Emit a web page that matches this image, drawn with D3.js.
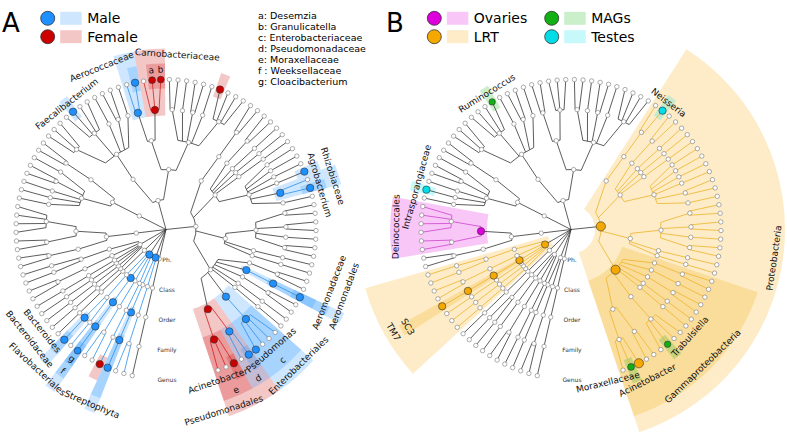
<!DOCTYPE html>
<html><head><meta charset="utf-8">
<script src="https://cdn.jsdelivr.net/npm/d3@7"></script>
<style>body{margin:0;background:#fff}svg{display:block}text{font-family:"DejaVu Sans",sans-serif}</style>
</head><body><svg id="chart" width="787" height="438"></svg>
<script>
// ---------------- DATA ----------------
const levels = ["Root", "Ph.", "Class", "Order", "Family", "Genus"];
const leaves = [
"Chloroflexi|Anaerolineae|Anaerolineales|Anaerolineaceae|Anaerolinea",
"Cyanobacteria|Synechococcophycideae|Synechococcales|Synechococcaceae|Synechococcus",
"Cyanobacteria|Synechococcophycideae|Synechococcales|Synechococcaceae|Prochlorococcus",
"Cyanobacteria|Chloroplast|Streptophyta|Streptophyta f.|Streptophyta g.",
"Bacteroidetes|Sphingobacteriia|Sphingobacteriales|Sphingobacteriaceae|Sphingobacterium",
"Bacteroidetes|Cytophagia|Cytophagales|Cytophagaceae|Hymenobacter",
"Bacteroidetes|Cytophagia|Cytophagales|Cytophagaceae|Dyadobacter",
"Bacteroidetes|Flavobacteriia|Flavobacteriales|Weeksellaceae|Cloacibacterium",
"Bacteroidetes|Bacteroidia|Bacteroidales|Porphyromonadaceae|Porphyromonas",
"Bacteroidetes|Bacteroidia|Bacteroidales|Bacteroidaceae|Bacteroides",
"Fusobacteria|Fusobacteriia|Fusobacteriales|Fusobacteriaceae|Fusobacterium",
"TM7|TM7-1|TM7-1 o.|TM7-1 f.|TM7-1 g.",
"TM7|TM7-2|TM7-2 o.|TM7-2 f.|TM7-2 g.",
"TM7|TM7-3|TM7-3 o.|TM7-3 f.|TM7-3 g.",
"TM7|SC3|SC3 o.|SC3 f.|SC3 g.",
"TM7|TM7-4|TM7-4 o.|TM7-4 f.|TM7-4 g1",
"TM7|TM7-4|TM7-4 o.|TM7-4 f.|TM7-4 g2",
"TM7|TM7-5|TM7-5 o.|TM7-5 f1|TM7-5 g1",
"TM7|TM7-5|TM7-5 o.|TM7-5 f2|TM7-5 g2",
"Deinococcus-Thermus|Deinococci|Thermales|Thermaceae|Thermus",
"Deinococcus-Thermus|Deinococci|Thermales|Thermaceae|Meiothermus",
"Deinococcus-Thermus|Deinococci|Deinococcales|Trueperaceae|Truepera",
"Deinococcus-Thermus|Deinococci|Deinococcales|Trueperaceae|Trueperaceae g.",
"Deinococcus-Thermus|Deinococci|Deinococcales|Deinococcaceae|Deinococcus",
"Deinococcus-Thermus|Deinococci|Deinococcales|Deinococcaceae|Deinobacterium",
"Deinococcus-Thermus|Deinococci|Deinococcales|Deinococcaceae|Deinococcaceae g1",
"Deinococcus-Thermus|Deinococci|Deinococcales|Deinococcaceae|Deinococcaceae g2",
"Actinobacteria|Actinobacteria|Actinomycetales|Micrococcaceae|Rothia",
"Actinobacteria|Actinobacteria|Actinomycetales|Intrasporangiaceae|Intrasporangiaceae g.",
"Actinobacteria|Actinobacteria|Actinomycetales|Dermabacteraceae|Brachybacterium",
"Actinobacteria|Actinobacteria|Actinomycetales|Corynebacteriaceae|Corynebacterium",
"Actinobacteria|Actinobacteria|Actinomycetales|Corynebacteriaceae|Turicella",
"Actinobacteria|Actinobacteria|Actinomycetales|Propionibacteriaceae|Propionibacterium",
"Actinobacteria|Actinobacteria|Bifidobacteriales|Bifidobacteriaceae|Bifidobacterium",
"Actinobacteria|Actinobacteria|Bifidobacteriales|Bifidobacteriaceae|Gardnerella",
"Firmicutes|Clostridia|Clostridiales|Lachnospiraceae|Blautia",
"Firmicutes|Clostridia|Clostridiales|Lachnospiraceae|Coprococcus",
"Firmicutes|Clostridia|Clostridiales|Lachnospiraceae|Roseburia",
"Firmicutes|Clostridia|Clostridiales|Ruminococcaceae|Oscillospira",
"Firmicutes|Clostridia|Clostridiales|Ruminococcaceae|Faecalibacterium",
"Firmicutes|Clostridia|Clostridiales|Ruminococcaceae|Subdoligranulum",
"Firmicutes|Clostridia|Clostridiales|Ruminococcaceae|Ruminococcus",
"Firmicutes|Clostridia|Clostridiales|Peptostreptococcaceae|Peptostreptococcus",
"Firmicutes|Clostridia|Clostridiales|Veillonellaceae|Veillonella",
"Firmicutes|Clostridia|Clostridiales|Veillonellaceae|Dialister",
"Firmicutes|Clostridia|Clostridiales|Clostridiaceae|Clostridium",
"Firmicutes|Bacilli|Lactobacillales|Aerococcaceae|Abiotrophia",
"Firmicutes|Bacilli|Lactobacillales|Aerococcaceae|Aerococcus",
"Firmicutes|Bacilli|Lactobacillales|Carnobacteriaceae|Carnobacterium",
"Firmicutes|Bacilli|Lactobacillales|Carnobacteriaceae|Desemzia",
"Firmicutes|Bacilli|Lactobacillales|Carnobacteriaceae|Granulicatella",
"Firmicutes|Bacilli|Bacillales|Bacillaceae|Bacillus",
"Firmicutes|Bacilli|Bacillales|Bacillaceae|Anoxybacillus",
"Firmicutes|Bacilli|Bacillales|Planococcaceae|Planococcus",
"Firmicutes|Bacilli|Bacillales|Staphylococcaceae|Staphylococcus",
"Firmicutes|Bacilli|Bacillales|Staphylococcaceae|Macrococcus",
"Firmicutes|Bacilli|Bacillales|Listeriaceae|Brochothrix",
"Firmicutes|Bacilli|Bacillales|Paenibacillaceae|Paenibacillus",
"Firmicutes|Bacilli|Bacillales|Paenibacillaceae|Brevibacillus",
"Firmicutes|Bacilli|Bacillales|Paenibacillaceae|Ammoniphilus",
"Firmicutes|Bacilli|Bacillales|Paenibacillaceae|Cohnella",
"Proteobacteria|Betaproteobacteria|Neisseriales|Neisseriaceae|Kingella",
"Proteobacteria|Betaproteobacteria|Neisseriales|Neisseriaceae|Neisseria",
"Proteobacteria|Alphaproteobacteria|Sphingomonadales|Sphingomonadaceae|Sphingomonas",
"Proteobacteria|Alphaproteobacteria|Sphingomonadales|Sphingomonadaceae|Sphingobium",
"Proteobacteria|Alphaproteobacteria|Caulobacterales|Caulobacteraceae|Brevundimonas",
"Proteobacteria|Alphaproteobacteria|Rhodobacterales|Rhodobacteraceae|Paracoccus",
"Proteobacteria|Alphaproteobacteria|Rhodospirillales|Acetobacteraceae|Roseomonas",
"Proteobacteria|Alphaproteobacteria|Rhizobiales|Bradyrhizobiaceae|Bradyrhizobium",
"Proteobacteria|Alphaproteobacteria|Rhizobiales|Methylobacteriaceae|Methylobacterium",
"Proteobacteria|Alphaproteobacteria|Rhizobiales|Phyllobacteriaceae|Mesorhizobium",
"Proteobacteria|Alphaproteobacteria|Rhizobiales|Brucellaceae|Ochrobactrum",
"Proteobacteria|Alphaproteobacteria|Rhizobiales|Rhizobiaceae|Rhizobium",
"Proteobacteria|Alphaproteobacteria|Rhizobiales|Rhizobiaceae|Agrobacterium",
"Proteobacteria|Alphaproteobacteria|Rhizobiales|Hyphomicrobiaceae|Devosia",
"Proteobacteria|Deltaproteobacteria|Burkholderiales|Comamonadaceae|Delftia",
"Proteobacteria|Deltaproteobacteria|Burkholderiales|Comamonadaceae|Comamonas",
"Proteobacteria|Deltaproteobacteria|Burkholderiales|Oxalobacteraceae|Massilia",
"Proteobacteria|Deltaproteobacteria|Burkholderiales|Oxalobacteraceae|Herbaspirillum",
"Proteobacteria|Deltaproteobacteria|Burkholderiales|Burkholderiaceae|Burkholderia",
"Proteobacteria|Deltaproteobacteria|Burkholderiales|Alcaligenaceae|Achromobacter",
"Proteobacteria|Deltaproteobacteria|Burkholderiales|Alcaligenaceae|Sutterella",
"Proteobacteria|Deltaproteobacteria|Rhodocyclales|Rhodocyclaceae|Dechloromonas",
"Proteobacteria|Deltaproteobacteria|Methylophilales|Methylophilaceae|Methylotenera",
"Proteobacteria|Gammaproteobacteria|Xanthomonadales|Xanthomonadaceae|Stenotrophomonas",
"Proteobacteria|Gammaproteobacteria|Xanthomonadales|Xanthomonadaceae|Lysobacter",
"Proteobacteria|Gammaproteobacteria|Aeromonadales|Aeromonadaceae|Aeromonas",
"Proteobacteria|Gammaproteobacteria|Pasteurellales|Pasteurellaceae|Haemophilus",
"Proteobacteria|Gammaproteobacteria|Pasteurellales|Pasteurellaceae|Actinobacillus",
"Proteobacteria|Gammaproteobacteria|Legionellales|Legionellaceae|Legionella",
"Proteobacteria|Gammaproteobacteria|Alteromonadales|Shewanellaceae|Shewanella",
"Proteobacteria|Gammaproteobacteria|Enterobacteriales|Enterobacteriaceae|Escherichia",
"Proteobacteria|Gammaproteobacteria|Enterobacteriales|Enterobacteriaceae|Klebsiella",
"Proteobacteria|Gammaproteobacteria|Enterobacteriales|Enterobacteriaceae|Trabulsiella",
"Proteobacteria|Gammaproteobacteria|Enterobacteriales|Enterobacteriaceae|Enterobacter",
"Proteobacteria|Gammaproteobacteria|Pseudomonadales|Pseudomonadaceae|Pseudomonas",
"Proteobacteria|Gammaproteobacteria|Pseudomonadales|Pseudomonadaceae|Azotobacter",
"Proteobacteria|Gammaproteobacteria|Pseudomonadales|Moraxellaceae|Acinetobacter",
"Proteobacteria|Gammaproteobacteria|Pseudomonadales|Moraxellaceae|Moraxellaceae g.",
"Proteobacteria|Gammaproteobacteria|Pseudomonadales|Moraxellaceae|Enhydrobacter"
];

const groupsA = ["Male", "Female"];
const groupsB = [["Ovaries", "LRT"], ["MAGs", "Testes"]];
const keyLetters = ["a: Desemzia", "b: Granulicatella", "c: Enterobacteriaceae", "d: Pseudomonadaceae",
                    "e: Moraxellaceae", "f : Weeksellaceae", "g: Cloacibacterium"];

const PS = "Proteobacteria|Gammaproteobacteria|Pseudomonadales";
const EN = "Proteobacteria|Gammaproteobacteria|Enterobacteriales|Enterobacteriaceae";
const highlightsA = [
 {clade: "Cyanobacteria", group: "Male", marker: true, branch: true},
 {clade: "Cyanobacteria|Chloroplast|Streptophyta", group: "Male", marker: true, ring: 3, label: "Streptophyta"},
 {clade: "Cyanobacteria|Chloroplast|Streptophyta|Streptophyta f.", group: "Male", marker: true, ring: 2},
 {clade: "Cyanobacteria|Chloroplast|Streptophyta|Streptophyta f.|Streptophyta g.", group: "Male", marker: true},
 {clade: "Bacteroidetes", group: "Male", marker: true, branch: true},
 {clade: "Bacteroidetes|Sphingobacteriia|Sphingobacteriales|Sphingobacteriaceae|Sphingobacterium", group: "Female", marker: true, ring: 1},
 {clade: "Bacteroidetes|Flavobacteriia", group: "Male", marker: true},
 {clade: "Bacteroidetes|Flavobacteriia|Flavobacteriales", group: "Male", marker: true, ring: 3, label: "Flavobacteriales"},
 {clade: "Bacteroidetes|Flavobacteriia|Flavobacteriales|Weeksellaceae", group: "Male", marker: true, ring: 2, label: "f"},
 {clade: "Bacteroidetes|Flavobacteriia|Flavobacteriales|Weeksellaceae|Cloacibacterium", group: "Male", marker: true, ring: 1, label: "g"},
 {clade: "Bacteroidetes|Bacteroidia|Bacteroidales|Bacteroidaceae", group: "Male", marker: true, ring: 2, label: "Bacteroidaceae"},
 {clade: "Bacteroidetes|Bacteroidia|Bacteroidales|Bacteroidaceae|Bacteroides", group: "Male", marker: true, ring: 1, label: "Bacteroides"},
 {clade: "Firmicutes|Clostridia|Clostridiales|Ruminococcaceae|Faecalibacterium", group: "Male", marker: true, ring: 1, label: "Faecalibacterium"},
 {clade: "Firmicutes|Bacilli|Lactobacillales|Aerococcaceae", group: "Male", marker: true, branch: true, ring: 2, label: "Aerococcaceae"},
 {clade: "Firmicutes|Bacilli|Lactobacillales|Aerococcaceae|Aerococcus", group: "Male", marker: true, ring: 1},
 {clade: "Firmicutes|Bacilli|Lactobacillales|Carnobacteriaceae", group: "Female", marker: true, branch: true, ring: 2, label: "Carnobacteriaceae"},
 {clade: "Firmicutes|Bacilli|Lactobacillales|Carnobacteriaceae|Desemzia", group: "Female", marker: true, ring: 1, label: "a"},
 {clade: "Firmicutes|Bacilli|Lactobacillales|Carnobacteriaceae|Granulicatella", group: "Female", marker: true, ring: 1, label: "b"},
 {clade: "Firmicutes|Bacilli|Bacillales|Paenibacillaceae|Paenibacillus", group: "Female", marker: true, ring: 1},
 {clade: "Proteobacteria|Alphaproteobacteria|Rhizobiales|Brucellaceae|Ochrobactrum", group: "Male", marker: true, ring: 1},
 {clade: "Proteobacteria|Alphaproteobacteria|Rhizobiales|Rhizobiaceae", group: "Male", marker: true, branch: true, ring: 2, label: "Rhizobiaceae"},
 {clade: "Proteobacteria|Alphaproteobacteria|Rhizobiales|Rhizobiaceae|Agrobacterium", group: "Male", marker: true, ring: 1, label: "Agrobacterium"},
 {clade: "Proteobacteria|Gammaproteobacteria|Aeromonadales", group: "Male", marker: true, branch: true, ring: 3, label: "Aeromonadales"},
 {clade: "Proteobacteria|Gammaproteobacteria|Aeromonadales|Aeromonadaceae", group: "Male", marker: true, ring: 2, label: "Aeromonadaceae"},
 {clade: "Proteobacteria|Gammaproteobacteria|Aeromonadales|Aeromonadaceae|Aeromonas", group: "Male", marker: true, ring: 1},
 {clade: "Proteobacteria|Gammaproteobacteria|Enterobacteriales", group: "Male", marker: true, branch: true, ring: 3, label: "Enterobacteriales"},
 {clade: EN, group: "Male", marker: true, ring: 2, label: "c"},
 {clade: EN + "|Enterobacter", group: "Male", marker: true},
 {clade: PS, group: "Female", marker: true, branch: true, ring: 3, label: "Pseudomonadales"},
 {clade: PS + "|Pseudomonadaceae", group: "Male", marker: true, branch: true, ring: 2, label: "d"},
 {clade: PS + "|Pseudomonadaceae|Pseudomonas", group: "Male", marker: true, ring: 1, label: "Pseudomonas"},
 {clade: PS + "|Moraxellaceae", group: "Female", marker: true, ring: 2, label: "e"},
 {clade: PS + "|Moraxellaceae|Acinetobacter", group: "Female", marker: true, ring: 1, label: "Acinetobacter"}
];

const highlightsB = [
 {clade: "TM7", group: "LRT", marker: true, branch: true, ring: 4, label: "TM7"},
 {clade: "TM7|SC3", group: "LRT", marker: true, ring: 3, label: "SC3"},
 {clade: "TM7|SC3|SC3 o.", group: "LRT", marker: true},
 {clade: "TM7|SC3|SC3 o.|SC3 f.", group: "LRT", marker: true},
 {clade: "TM7|SC3|SC3 o.|SC3 f.|SC3 g.", group: "LRT", marker: true},
 {clade: "Deinococcus-Thermus|Deinococci|Deinococcales", group: "Ovaries", marker: true, branch: true, ring: 2, label: "Deinococcales"},
 {clade: "Actinobacteria|Actinobacteria|Actinomycetales|Intrasporangiaceae|Intrasporangiaceae g.", group: "Testes", marker: true, ring: 1, label: "Intrasporangiaceae"},
 {clade: "Firmicutes|Clostridia|Clostridiales|Ruminococcaceae|Ruminococcus", group: "MAGs", marker: true, ring: 1, label: "Ruminococcus"},
 {clade: "Proteobacteria", group: "LRT", marker: true, branch: true, ring: 4, label: "Proteobacteria"},
 {clade: "Proteobacteria|Betaproteobacteria|Neisseriales|Neisseriaceae|Neisseria", group: "Testes", marker: true, ring: 1, label: "Neisseria"},
 {clade: "Proteobacteria|Gammaproteobacteria", group: "LRT", marker: true, ring: 3, label: "Gammaproteobacteria"},
 {clade: EN + "|Trabulsiella", group: "MAGs", marker: true, ring: 1, label: "Trabulsiella"},
 {clade: PS + "|Moraxellaceae|Acinetobacter", group: "LRT", marker: true, label: "Acinetobacter"},
 {clade: PS + "|Moraxellaceae|Moraxellaceae g.", group: "MAGs", marker: true, ring: 1, label: "Moraxellaceae"}
];

// ---------------- STYLE ----------------
const colors = {
  Male: {fill: "#1E90FF", branch: "#2A8FEA"},
  Female: {fill: "#CC0000", branch: "#D42020"},
  Ovaries: {fill: "#DD00DD", branch: "#CC44CC"},
  LRT: {fill: "#F5A800", branch: "#EDB429"},
  MAGs: {fill: "#12B012", branch: "#12B012"},
  Testes: {fill: "#00DDE6", branch: "#00C0D0"}
};
const wedgeOpacity = 0.22;
const ringOuter = {1: 166, 2: 181, 3: 197, 4: 214};
const ringLabel = {1: 160, 2: 175, 3: 190, 4: 205};
const labelShiftA = {Bacteroides: 8, Bacteroidaceae: 8.5, Flavobacteriales: 6.5, Aerococcaceae: -8,
  Carnobacteriaceae: 9, Aeromonadaceae: -5.7, Aeromonadales: -6.3, Enterobacteriales: -2.5,
  Pseudomonas: -7.6, Acinetobacter: 8, Pseudomonadales: 10};
const labelShiftB = {Proteobacteria: 14, Gammaproteobacteria: 4, Moraxellaceae: 10, Trabulsiella: -8, Deinococcales: 2};
const labelRadiusB = {Acinetobacter: 169, Moraxellaceae: 157};
const markerSizeB = {Proteobacteria: 4.6, Gammaproteobacteria: 4.6, Acinetobacter: 4.6, Trabulsiella: 3.2, Ruminococcus: 3.2, "Moraxellaceae g.": 3.4, TM7: 3.6};
const angleRange = [193, 519.7];
const BRACKET = 0.6;

function light(c, k) { const a = d3.rgb(c), w = 1 - k; return d3.rgb(a.r * k + 255 * w, a.g * k + 255 * w, a.b * k + 255 * w).toString(); }

const svg = d3.select("#chart");

function buildTree() {
  const rows = [{id: "root", parentId: null}], seen = new Set(["root"]);
  leaves.forEach(p => {
    const parts = p.split("|");
    for (let k = 1; k <= parts.length; k++) {
      const id = parts.slice(0, k).join("|");
      if (!seen.has(id)) { seen.add(id); rows.push({id, parentId: k === 1 ? "root" : parts.slice(0, k - 1).join("|"), name: parts[k - 1]}); }
    }
  });
  return d3.stratify()(rows);
}

function drawPanel(cx, cy, highlights, shifts, sizes, radii) {
  const root = buildTree();
  const idx = new Map(leaves.map((p, i) => [p, i]));
  const ang = d3.scaleLinear().domain([0, leaves.length - 1]).range(angleRange);
  const rad = d3.scalePoint().domain(levels).range([0, 150]);
  const half = (angleRange[1] - angleRange[0]) / (leaves.length - 1) / 2;
  root.eachAfter(n => {
    n.r = rad(levels[n.depth]);
    if (!n.children) { const i = idx.get(n.id); n.a = ang(i); n.i0 = n.i1 = i; }
    else { const f = n.children[0], l = n.children[n.children.length - 1]; n.a = (f.a + l.a) / 2; n.i0 = f.i0; n.i1 = l.i1; }
  });
  const P = (r, a) => { const t = a * Math.PI / 180; return [cx + r * Math.sin(t), cy - r * Math.cos(t)]; };
  const hl = new Map(highlights.map(h => [h.clade, h]));
  const byId = new Map(root.descendants().map(n => [n.id, n]));

  const g = svg.append("g");
  const gw = g.append("g");
  highlights.filter(h => h.ring).forEach(h => {
    const n = byId.get(h.clade);
    const arc = d3.arc().innerRadius(n.r - (n.children ? 6 : 9)).outerRadius(ringOuter[h.ring])
      .startAngle((ang(n.i0) - half) * Math.PI / 180).endAngle((ang(n.i1) + half) * Math.PI / 180);
    gw.append("path").attr("d", arc()).attr("transform", `translate(${cx},${cy})`)
      .attr("fill", colors[h.group].fill).attr("fill-opacity", wedgeOpacity);
  });
  const branchColor = n => { for (let p = n; p; p = p.parent) { const h = hl.get(p.id); if (h && h.branch) return colors[h.group].branch; } return "#333"; };
  const gb = g.append("g").attr("fill", "none").attr("stroke-width", 0.8);
  root.each(p => {
    if (!p.children) return;
    const col = branchColor(p);
    const starts = p.children.map(c => p.a + BRACKET * (c.a - p.a));
    if (p.r > 0 && p.children.length > 1) {
      const s = P(p.r, starts[0]), e = P(p.r, starts[starts.length - 1]);
      gb.append("path").attr("d", `M${s}A${p.r},${p.r} 0 0 1 ${e}`).attr("stroke", col);
    }
    p.children.forEach((c, k) => {
      gb.append("path").attr("d", "M" + P(p.r, starts[k]) + "L" + P(c.r, c.a)).attr("stroke", col);
    });
  });
  const gn = g.append("g");
  root.descendants().filter(n => n.depth > 0).forEach(n => {
    const [x, y] = P(n.r, n.a);
    const h = hl.get(n.id);
    if (h && h.marker) {
      const rr = sizes[n.data.name] || (h.label && h.label.length === 1 && !n.children ? 3.4 : 3.7);
      gn.append("circle").attr("cx", x).attr("cy", y).attr("r", rr).attr("fill", colors[h.group].fill).attr("stroke", "#333").attr("stroke-width", 0.6);
    } else {
      gn.append("circle").attr("cx", x).attr("cy", y).attr("r", 2.2).attr("fill", "#fff").attr("stroke", "#777").attr("stroke-width", 0.6);
    }
  });
  const gl = g.append("g").attr("font-size", 9).attr("fill", "#111");
  highlights.filter(h => h.label).forEach(h => {
    const n = byId.get(h.clade);
    const ring = h.ring || 1;
    const a = n.a + (shifts[h.label] || 0);
    const an = ((a % 360) + 360) % 360;
    const rot = (an > 90 && an <= 270) ? an - 180 : (an > 270 ? an - 360 : an);
    const [x, y] = P(radii[h.label] || ringLabel[ring], a);
    gl.append("text").attr("x", x).attr("y", y).attr("text-anchor", "middle").attr("dominant-baseline", "central")
      .attr("transform", `rotate(${rot},${x},${y})`).text(h.label);
  });
  const gt = g.append("g").attr("font-size", 6).attr("text-anchor", "middle");
  levels.slice(1).forEach(l => gt.append("text").attr("x", cx + 1).attr("y", cy + rad(l)).attr("fill", "#333").attr("dominant-baseline", "central").text(l));
}

drawPanel(166, 229.5, highlightsA, labelShiftA, {}, {});
drawPanel(571, 229.5, highlightsB, labelShiftB, markerSizeB, labelRadiusB);

svg.append("text").attr("x", 2).attr("y", 32).attr("font-size", 26).text("A");
svg.append("text").attr("x", 386).attr("y", 32).attr("font-size", 26).text("B");
function legendItem(x, y, grp) {
  svg.append("circle").attr("cx", x).attr("cy", y).attr("r", 7).attr("fill", colors[grp].fill).attr("stroke", "#333").attr("stroke-width", 0.8);
  svg.append("rect").attr("x", x + 12.5).attr("y", y - 6.5).attr("width", 21.5).attr("height", 13).attr("fill", light(colors[grp].fill, 0.22));
  svg.append("text").attr("x", x + 39.5).attr("y", y + 5).attr("font-size", 14).text(grp);
}
groupsA.forEach((gname, i) => legendItem(47.7, 18.3 + i * 18.4, gname));
groupsB.forEach((col, j) => col.forEach((gname, i) => legendItem(434.3 + j * 117.4, 18.3 + i * 18.4, gname)));
keyLetters.forEach((t, i) => svg.append("text").attr("x", 258).attr("y", 18.5 + i * 11).attr("font-size", 9.5).text(t));
</script></body></html>
